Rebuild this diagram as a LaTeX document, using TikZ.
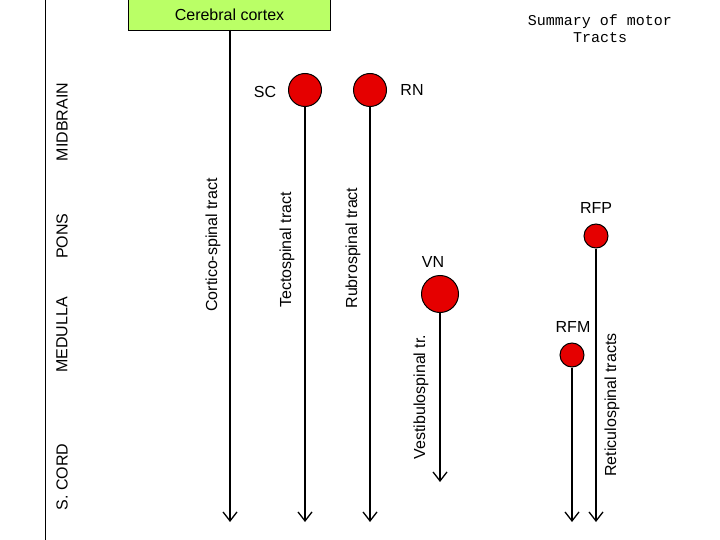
\documentclass[tikz,border=0pt]{standalone}
\usepackage{fontspec}
\setsansfont{Liberation Sans}
\setmonofont{Liberation Mono}
\usetikzlibrary{arrows.meta}
\begin{document}
\begin{tikzpicture}[x=1pt,y=-1pt,
  tract/.style={line width=1.3pt,-{Straight Barb[length=9pt,width=14pt,line width=1.3pt]}},
  nuc/.style={circle,draw=black,line width=1pt,fill=red!90!black,inner sep=0pt},
  lab/.style={font=\sffamily\fontsize{16}{16}\selectfont},
  rlab/.style={font=\sffamily\fontsize{16}{16}\selectfont,rotate=90}]
\useasboundingbox (0,0) rectangle (720,540);
\fill[white] (0,0) rectangle (720,540);
\draw[line width=1pt] (45,0) -- (45,540);
\node[rlab] (mb) at (62,122) {MIDBRAIN};
\node[rlab] (po) at (62,236) {PONS};
\node[rlab] (me) at (62,335) {MEDULLA};
\node[rlab] (sc2) at (62,477) {S. CORD};
\node[draw,line width=1pt,fill=green!45!yellow!60!white,minimum width=202pt,minimum height=32pt,lab,anchor=north west] (cc) at (128,-2) {Cerebral cortex};
\coordinate (s1) at (230,30);
\coordinate (e1) at (230,522);
\draw[tract] (s1) -- (e1);
\node[rlab] (l1) at (213,245) {Cortico-spinal tract};
\node[nuc,minimum size=33pt] (sc) at (305,90) {};
\node[lab] (tsc) at (265,92) {SC};
\coordinate (e2) at (305,522);
\draw[tract] (sc) -- (e2);
\node[rlab] (l2) at (287,250) {Tectospinal tract};
\node[nuc,minimum size=33pt] (rn) at (370,90) {};
\node[lab] (trn) at (412,90) {RN};
\coordinate (e3) at (370,522);
\draw[tract] (rn) -- (e3);
\node[rlab] (l3) at (353,248) {Rubrospinal tract};
\node[nuc,minimum size=37pt] (vn) at (440,294) {};
\node[lab] (tvn) at (433,262) {VN};
\coordinate (e4) at (440,482);
\draw[tract] (vn) -- (e4);
\node[rlab] (l4) at (421,397) {Vestibulospinal tr.};
\node[nuc,minimum size=24pt] (rfp) at (596,236) {};
\node[lab] (trfp) at (596,208) {RFP};
\coordinate (e5) at (596,522);
\draw[tract] (rfp) -- (e5);
\node[nuc,minimum size=24pt] (rfm) at (572,355) {};
\node[lab] (trfm) at (573,327) {RFM};
\coordinate (e6) at (572,522);
\draw[tract] (rfm) -- (e6);
\node[rlab] (l5) at (612,405) {Reticulospinal tracts};
\node[font=\ttfamily\fontsize{15}{17}\selectfont,align=center] (sum) at (600,29) {Summary of motor\\Tracts};
\end{tikzpicture}
\end{document}
